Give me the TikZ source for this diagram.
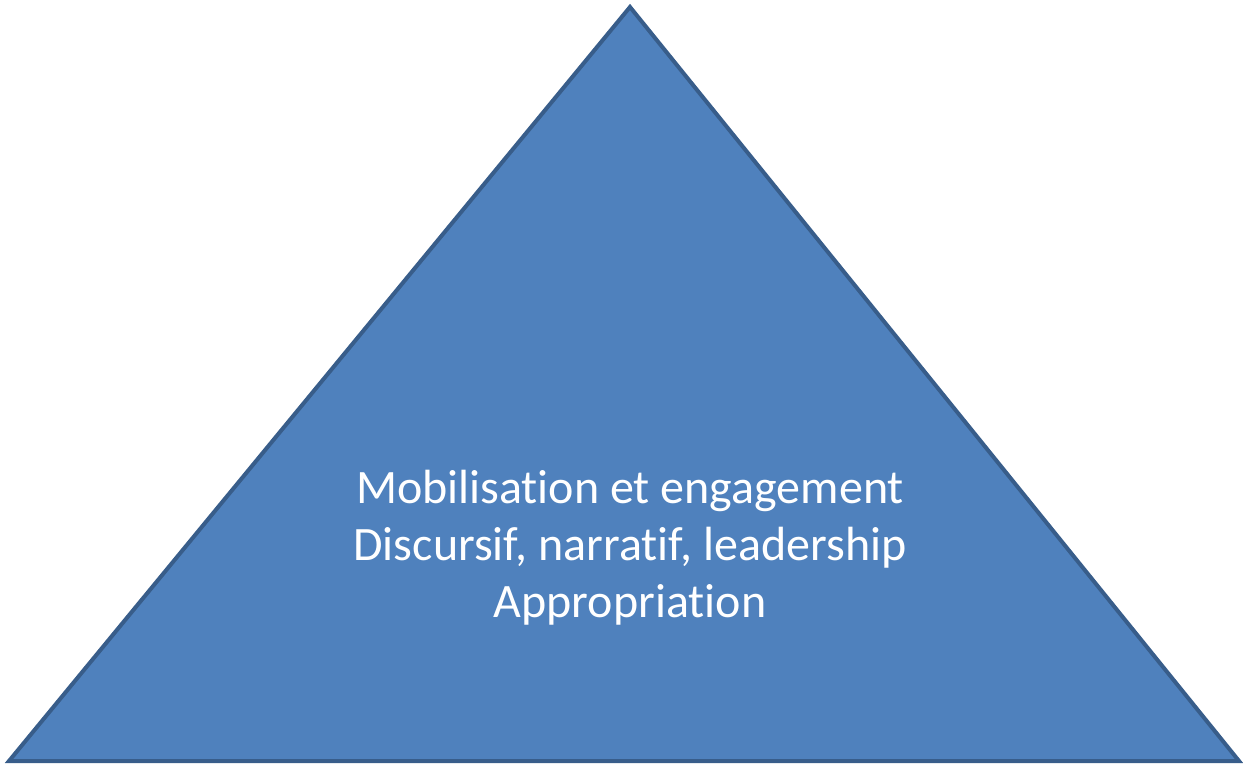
\documentclass[tikz,border=0pt]{standalone}
\usepackage{fontspec}
\setmainfont[RawFeature=-liga]{Carlito}
\definecolor{trifill}{HTML}{4F81BD}
\definecolor{triedge}{HTML}{385D8A}
\begin{document}
\begin{tikzpicture}[x=1pt,y=-1pt,
  tri/.style={fill=trifill,draw=triedge,line width=4pt,line join=miter},
  lbl/.style={text=white,font=\fontsize{48}{57}\selectfont,align=center}]
\useasboundingbox (0,0) rectangle (1243,765);
\coordinate (apex) at (630,7);
\coordinate (bl) at (9,761);
\coordinate (br) at (1239,761);
\draw[tri] (apex) -- (br) -- (bl) -- cycle;
\node[lbl] (txt) at (630,548) {Mobilisation et engagement\\Discursif, narratif, leadership\\Appropriation};
\end{tikzpicture}
\end{document}
